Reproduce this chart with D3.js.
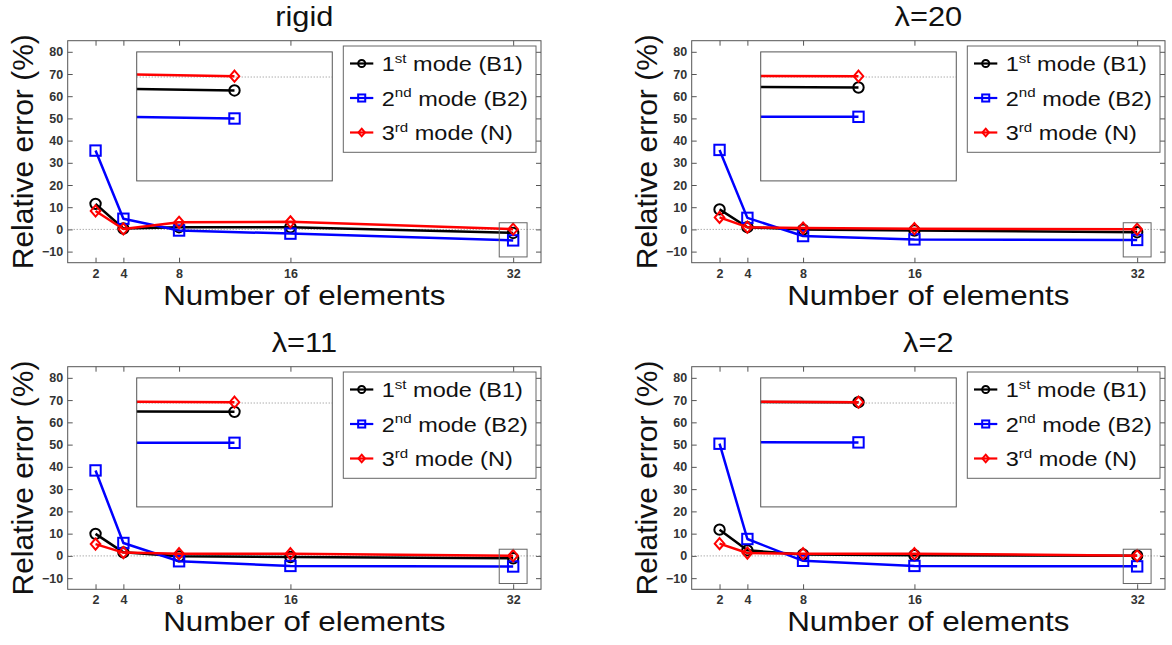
<!DOCTYPE html>
<html>
<head>
<meta charset="utf-8">
<script src="https://cdn.jsdelivr.net/npm/d3@7"></script>
<style>
  body { margin: 0; background: #fff; }
  svg { display: block; }
  text { font-family: "Liberation Sans", Arial, Helvetica, sans-serif; }
</style>
</head>
<body>
<svg id="fig" width="1172" height="645"></svg>
<script>
// ---- data ---------------------------------------------------------------
const elementCounts = [2, 4, 8, 16, 32];
const xTickValues = [2, 4, 8, 16, 32];
const yTickValues = [-10, 0, 10, 20, 30, 40, 50, 60, 70, 80];
const panelTitles = ["rigid", "λ=20", "λ=11", "λ=2"];

// relative error (%) of each mode versus number of elements
const rigidB1 = [11.5, 0.4, 1.0, 1.0, -1.6];
const rigidB2 = [35.5, 4.8, -0.5, -1.9, -4.95];
const rigidN  = [8.3, 0.2, 3.2, 3.4, 0.1];

const lam20B1 = [9.0, 1.0, -0.1, -0.5, -1.25];
const lam20B2 = [35.8, 5.2, -3.0, -4.5, -4.75];
const lam20N  = [5.4, 1.0, 0.6, 0.3, 0.1];

const lam11B1 = [9.9, 1.6, -0.2, -0.5, -1.05];
const lam11B2 = [38.4, 5.8, -2.4, -4.5, -4.75];
const lam11N  = [5.3, 1.5, 1.0, 1.0, 0.1];

const lam2B1 = [11.8, 2.5, 0.6, 0.3, 0.1];
const lam2B2 = [50.4, 7.6, -2.2, -4.5, -4.7];
const lam2N  = [5.5, 1.3, 1.0, 1.0, 0.1];

const modeOrdinals = ["1", "2", "3"];
const modeSuffixes = ["st", "nd", "rd"];
const modeNames = [" mode (B1)", " mode (B2)", " mode (N)"];

// ---- layout / style -----------------------------------------------------
const SX = 1.12;                 // horizontal text stretch
const AX_W = 473.3;
const xDomain = [0, 34];
const yDomain = [-15, 85];
const zoomX = [31, 33];          // region magnified in the inset
const zoomY = [-12.4, 3];
const frameColor = "#555";
const seriesStyle = [
  { color: "#000000", marker: "circle" },
  { color: "#0000ff", marker: "square" },
  { color: "#ff0000", marker: "diamond" }
];

const panels = [
  { title: panelTitles[0], series: [rigidB1, rigidB2, rigidN], left: 67.7,  top: 40.7,  h: 222 },
  { title: panelTitles[1], series: [lam20B1, lam20B2, lam20N], left: 691.7, top: 40.7,  h: 222 },
  { title: panelTitles[2], series: [lam11B1, lam11B2, lam11N], left: 67.7,  top: 366.7, h: 222.6 },
  { title: panelTitles[3], series: [lam2B1,  lam2B2,  lam2N],  left: 691.7, top: 366.7, h: 222.6 }
];

const svg = d3.select("#fig");
const defs = svg.append("defs");

function stretchedText(g, x, y, str, size, anchor) {
  return g.append("text")
    .attr("transform", `translate(${x},${y}) scale(${SX},1)`)
    .attr("text-anchor", anchor)
    .attr("font-size", size)
    .attr("fill", "#111")
    .text(str);
}

function drawMarker(g, cx, cy, type, color, s) {
  const sw = 2;
  if (type === "circle") {
    g.append("circle").attr("cx", cx).attr("cy", cy).attr("r", 5.2 * s)
      .attr("fill", "none").attr("stroke", color).attr("stroke-width", sw);
  } else if (type === "square") {
    const a = 10.4 * s;
    g.append("rect").attr("x", cx - a / 2).attr("y", cy - a / 2).attr("width", a).attr("height", a)
      .attr("fill", "none").attr("stroke", color).attr("stroke-width", sw);
  } else {
    const hw = 4.8 * s, hh = 5.6 * s;
    g.append("path")
      .attr("d", `M${cx},${cy - hh}L${cx + hw},${cy}L${cx},${cy + hh}L${cx - hw},${cy}Z`)
      .attr("fill", "none").attr("stroke", color).attr("stroke-width", sw);
  }
}

function drawSeries(g, xs, ys, values, style) {
  const line = d3.line().x((d, i) => xs(elementCounts[i])).y(d => ys(d));
  g.append("path").datum(values).attr("d", line)
    .attr("fill", "none").attr("stroke", style.color).attr("stroke-width", 2.5)
    .attr("stroke-linejoin", "round");
  values.forEach((v, i) => drawMarker(g, xs(elementCounts[i]), ys(v), style.marker, style.color, 1));
}

panels.forEach((p, pi) => {
  const L = p.left, T = p.top, W = AX_W, H = p.h;
  const g = svg.append("g");
  const x = d3.scaleLinear().domain(xDomain).range([L, L + W]);
  const y = d3.scaleLinear().domain(yDomain).range([T + H, T]);

  // axes box
  g.append("rect").attr("x", L).attr("y", T).attr("width", W).attr("height", H)
    .attr("fill", "#fff").attr("stroke", frameColor).attr("stroke-width", 1);

  // ticks on all four sides, pointing inward
  const styleAxis = sel => {
    sel.select(".domain").remove();
    sel.selectAll(".tick line").attr("stroke", frameColor);
    sel.selectAll(".tick text").attr("fill", "#333").attr("font-size", 12.5)
      .attr("font-weight", "bold")
      .attr("font-family", "Liberation Sans, Arial, sans-serif");
  };
  g.append("g").attr("transform", `translate(0,${T + H})`)
    .call(d3.axisBottom(x).tickValues(xTickValues).tickSizeInner(-5).tickSizeOuter(0).tickPadding(6))
    .call(styleAxis);
  g.append("g").attr("transform", `translate(0,${T})`)
    .call(d3.axisTop(x).tickValues(xTickValues).tickSizeInner(-5).tickSizeOuter(0).tickFormat(""))
    .call(styleAxis);
  g.append("g").attr("transform", `translate(${L},0)`)
    .call(d3.axisLeft(y).tickValues(yTickValues).tickSizeInner(-5).tickSizeOuter(0).tickPadding(4.5))
    .call(styleAxis);
  g.append("g").attr("transform", `translate(${L + W},0)`)
    .call(d3.axisRight(y).tickValues(yTickValues).tickSizeInner(-5).tickSizeOuter(0).tickFormat(""))
    .call(styleAxis);

  // zero reference line
  g.append("line").attr("x1", L).attr("x2", L + W).attr("y1", y(0)).attr("y2", y(0))
    .attr("stroke", "#888").attr("stroke-width", 1).attr("stroke-dasharray", "1,2");

  // data
  p.series.forEach((vals, si) => drawSeries(g, x, y, vals, seriesStyle[si]));

  // region shown magnified in the inset
  g.append("rect").attr("x", x(zoomX[0])).attr("y", y(zoomY[1]))
    .attr("width", x(zoomX[1]) - x(zoomX[0])).attr("height", y(zoomY[0]) - y(zoomY[1]))
    .attr("fill", "none").attr("stroke", "#666").attr("stroke-width", 1);

  // inset
  const iL = L + 0.1458 * W, iW = 0.4132 * W, iT = T + 11.2, iH = 129;
  const ix = d3.scaleLinear().domain(zoomX).range([iL, iL + iW]);
  const iy = d3.scaleLinear().domain(zoomY).range([iT + iH, iT]);
  const clipId = "inset-clip-" + pi;
  defs.append("clipPath").attr("id", clipId)
    .append("rect").attr("x", iL).attr("y", iT).attr("width", iW).attr("height", iH);
  g.append("rect").attr("x", iL).attr("y", iT).attr("width", iW).attr("height", iH)
    .attr("fill", "#fff");
  const ig = g.append("g").attr("clip-path", `url(#${clipId})`);
  ig.append("line").attr("x1", iL).attr("x2", iL + iW).attr("y1", iy(0)).attr("y2", iy(0))
    .attr("stroke", "#888").attr("stroke-width", 1).attr("stroke-dasharray", "1,2");
  p.series.forEach((vals, si) => drawSeries(ig, ix, iy, vals, seriesStyle[si]));
  g.append("rect").attr("x", iL).attr("y", iT).attr("width", iW).attr("height", iH)
    .attr("fill", "none").attr("stroke", frameColor).attr("stroke-width", 1);

  // legend
  const lgL = L + 275.6, lgT = T + 5.3, lgW = 192.7, lgH = 106.3;
  g.append("rect").attr("x", lgL).attr("y", lgT).attr("width", lgW).attr("height", lgH)
    .attr("fill", "#fff").attr("stroke", "#666").attr("stroke-width", 1);
  seriesStyle.forEach((st, si) => {
    const cy = lgT + 17.5 + si * 34.5;
    g.append("line").attr("x1", lgL + 6.7).attr("x2", lgL + 30).attr("y1", cy).attr("y2", cy)
      .attr("stroke", st.color).attr("stroke-width", 2.2);
    drawMarker(g, lgL + 18.4, cy, st.marker, st.color, 0.68);
    const t = g.append("text")
      .attr("transform", `translate(${lgL + 38.4},${cy + 7.6}) scale(${SX},1)`)
      .attr("font-size", 21).attr("fill", "#111");
    t.append("tspan").text(modeOrdinals[si]);
    t.append("tspan").attr("font-size", 13.5).attr("dy", -8.5).text(modeSuffixes[si]);
    t.append("tspan").attr("dy", 8.5).text(modeNames[si]);
  });

  // titles and axis labels
  stretchedText(g, L + W / 2, T - 15, p.title, 27.5, "middle");
  stretchedText(g, L + W / 2, T + H + 42, "Number of elements", 28, "middle");
  g.append("text")
    .attr("transform", `translate(${L - 34.4},${T + H / 2}) rotate(-90)`)
    .attr("text-anchor", "middle").attr("font-size", 30).attr("fill", "#111")
    .text("Relative error (%)");
});
</script>
</body>
</html>
